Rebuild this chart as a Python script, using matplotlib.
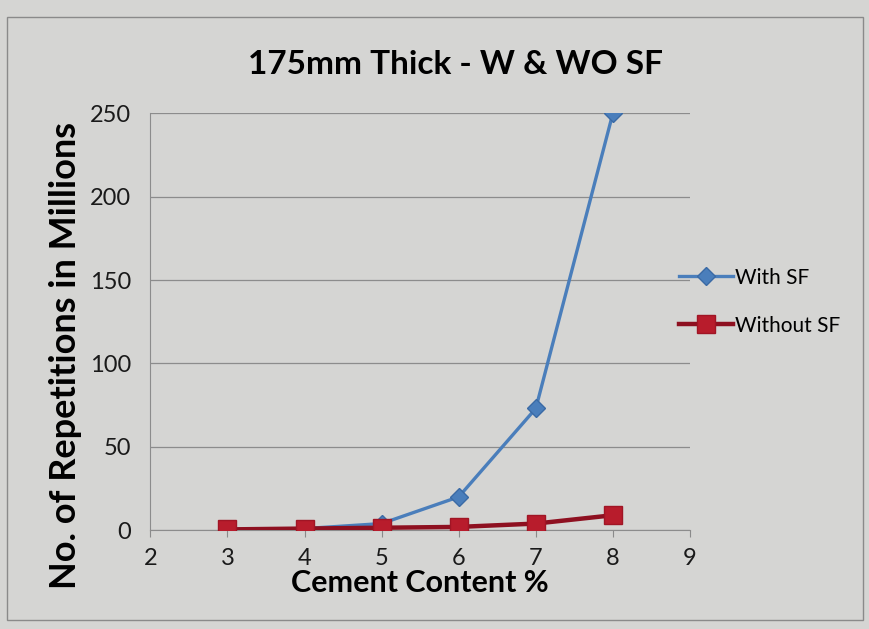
import matplotlib.pyplot as plt
from matplotlib.patches import Rectangle

# Cement content (%) vs. repetitions (millions), 175 mm slab
cement = [3, 4, 5, 6, 7, 8]
with_sf = [0.5, 1, 4, 20, 73, 250]
without_sf = [0.5, 1, 1.5, 2, 4, 9]

x_ticks = [2, 3, 4, 5, 6, 7, 8, 9]
y_ticks = [0, 50, 100, 150, 200, 250]

plt.rcParams['font.family'] = ['Lato', 'DejaVu Sans']

fig = plt.figure(figsize=(8.69, 6.29), dpi=100)
fig.patch.set_facecolor('#d5d5d3')

# outer chart border
fig.add_artist(Rectangle((0.008, 0.015), 0.985, 0.958, transform=fig.transFigure,
                         fill=False, edgecolor='#8a8a8a', linewidth=1.0))

ax = fig.add_axes([0.173, 0.157, 0.621, 0.663])
ax.set_facecolor('#d5d5d3')

ax.plot(cement, with_sf, color='#4a7ebb', linewidth=2.4, marker='D',
        markersize=9, markerfacecolor='#4a7ebb', markeredgecolor='#3a6aa5',
        label='With SF', zorder=3)
ax.plot(cement, without_sf, color='#8e1020', linewidth=3.2, marker='s',
        markersize=13, markerfacecolor='#b81c2c', markeredgecolor='#a01525',
        label='Without SF', zorder=4)

ax.set_xlim(2, 9)
ax.set_ylim(0, 250)
ax.set_xticks(x_ticks)
ax.set_yticks(y_ticks)
ax.tick_params(axis='both', labelsize=17, colors='#8a8a8a', labelcolor='#1a1a1a',
               length=5, direction='out')
ax.tick_params(axis='x', pad=8)
ax.tick_params(axis='y', length=0, pad=14)
ax.yaxis.grid(True, color='#8c8c8c', linewidth=0.9)
ax.set_axisbelow(True)
for side in ('top', 'right'):
    ax.spines[side].set_visible(False)
for side in ('left', 'bottom'):
    ax.spines[side].set_color('#8c8c8c')

ax.set_title('175mm Thick - W & WO SF', fontsize=24, fontweight='bold', pad=28, x=0.565)
ax.set_ylabel('No. of Repetitions in Millions', fontsize=26, fontweight='bold')
ax.yaxis.set_label_coords(-0.126, 0.42)
ax.set_xlabel('Cement Content %', fontsize=22, fontweight='bold', labelpad=0)

ax.legend(loc='upper left', bbox_to_anchor=(0.945, 0.675), frameon=False, fontsize=15,
          handlelength=2.6, handletextpad=0.1, labelspacing=1.35)

fig.savefig('out.png', dpi=100, facecolor=fig.get_facecolor())
